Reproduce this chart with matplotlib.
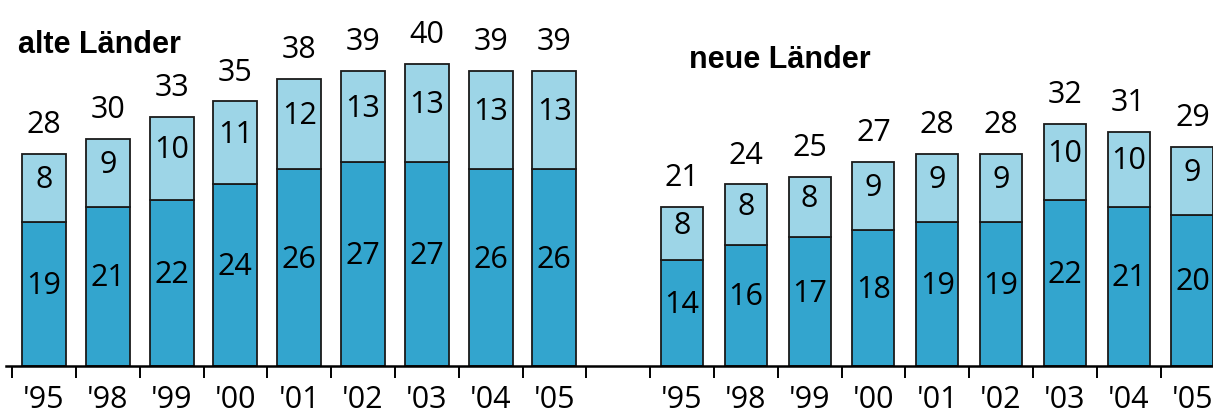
import matplotlib

matplotlib.use("Agg")

import matplotlib.pyplot as plt
import numpy as np

# Werte
years = ["'95", "'98", "'99", "'00", "'01", "'02", "'03", "'04", "'05"]

alt_bottom = [19, 21, 22, 24, 26, 27, 27, 26, 26]
alt_top = [8, 9, 10, 11, 12, 13, 13, 13, 13]
alt_total = [28, 30, 33, 35, 38, 39, 40, 39, 39]

neu_bottom = [14, 16, 17, 18, 19, 19, 22, 21, 20]
neu_top = [8, 8, 8, 9, 9, 9, 10, 10, 9]
neu_total = [21, 24, 25, 27, 28, 28, 32, 31, 29]

DARK = "#33a5ce"
LIGHT = "#9dd5e7"
EDGE = "#1a1a1a"
NUM_FONT = ["Open Sans", "DejaVu Sans"]
NUM_SIZE = 22

W, H = 1213, 419
fig = plt.figure(figsize=(W / 100, H / 100), dpi=100)
base_px = 53.3
ax = fig.add_axes([0, base_px / H, 1, 1 - base_px / H])
px_per_unit = 7.55
ax.set_ylim(0, (H - base_px) / px_per_unit)
pitch = 63.8
ax.set_xlim(-44 / pitch, (W - 44) / pitch)


def draw_group(x, bottom, top, total, width):
    bottom = np.array(bottom)
    total = np.array(total)
    upper = total - bottom
    ax.bar(x, bottom, width, color=DARK, edgecolor=EDGE, linewidth=1.3, zorder=2)
    ax.bar(x, upper, width, bottom=bottom, color=LIGHT, edgecolor=EDGE,
           linewidth=1.3, zorder=2)
    for xi, b, t, u, tot in zip(x, bottom, top, upper, total):
        ax.text(xi, b / 2, str(b), ha="center", va="baseline", fontsize=NUM_SIZE,
                family=NUM_FONT, zorder=3)
        ax.text(xi, b + u / 2, str(t), ha="center", va="baseline", fontsize=NUM_SIZE,
                family=NUM_FONT, zorder=3)
        ax.annotate(str(tot), (xi, tot), xytext=(0, 15), textcoords="offset points",
                    ha="center", va="baseline", fontsize=NUM_SIZE, family=NUM_FONT)


x_alt = np.arange(len(years))
x_neu = np.arange(len(years)) + len(years) + 1
draw_group(x_alt, alt_bottom, alt_top, alt_total, 0.69)
draw_group(x_neu, neu_bottom, neu_top, neu_total, 0.66)

fig.text(18 / W, 1 - 53 / H, "alte Länder", fontsize=22, fontweight="bold",
         family="Liberation Sans", va="baseline")
fig.text(689 / W, 1 - 68 / H, "neue Länder", fontsize=22, fontweight="bold",
         family="Liberation Sans", va="baseline")

# Achse mit Trennstrichen zwischen den Balken
ax.set_xticks(np.arange(0, 2 * len(years) + 1) - 0.5)
ax.set_xticklabels([])
ax.tick_params(axis="x", which="major", direction="out", length=8.6, width=1.4,
               color="black")
ax.set_xticks(np.concatenate([x_alt, x_neu]), minor=True)
ax.set_xticklabels(years + years, minor=True, fontsize=NUM_SIZE, family=NUM_FONT)
ax.tick_params(axis="x", which="minor", length=0, pad=14)
ax.set_yticks([])
for side in ["left", "top", "right"]:
    ax.spines[side].set_visible(False)
ax.spines["bottom"].set_linewidth(1.8)
ax.spines["bottom"].set_bounds(-0.6, 2 * len(years) + 1)

fig.savefig("out.png", dpi=100)
